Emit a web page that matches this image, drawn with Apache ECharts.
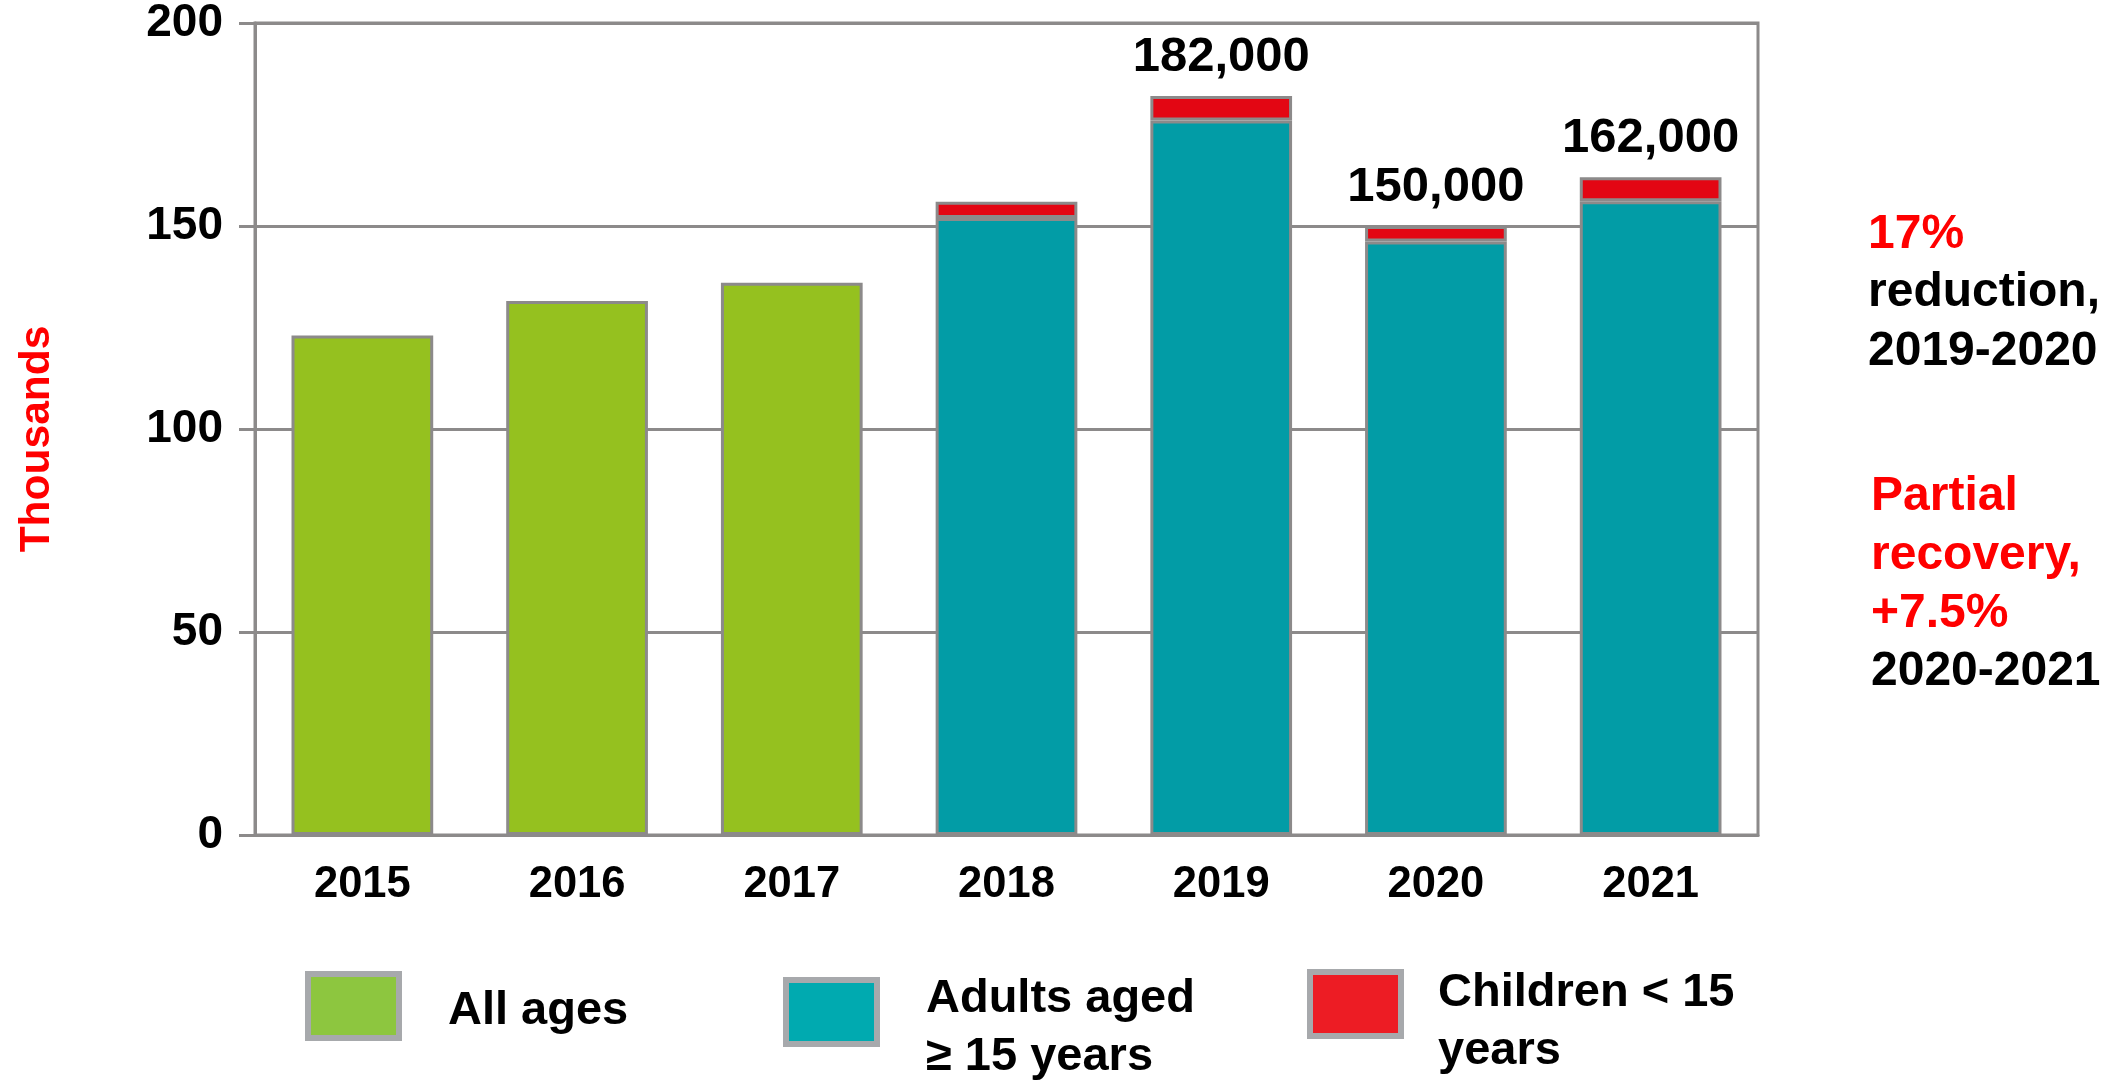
<!DOCTYPE html>
<html>
<head>
<meta charset="utf-8">
<script src="https://cdn.jsdelivr.net/npm/echarts@6/dist/echarts.min.js"></script>
<style>
  html, body { margin: 0; padding: 0; background: #ffffff; }
  #chart { width: 2118px; height: 1081px; }
</style>
</head>
<body>
<div id="chart"></div>
<script>
// Yearly totals, in thousands
const years = ['2015', '2016', '2017', '2018', '2019', '2020', '2021'];
const allAges  = [123, 131.5, 136, '-', '-', '-', '-'];
const adults   = ['-', '-', '-', 152, 176, 146.2, 156.1];
const children = ['-', '-', '-', 4, 6, 3.8, 5.9];
// Years whose stacked total is written above the bar
const labelledYears = ['2019', '2020', '2021'];
const yTicks = { min: 0, max: 200, interval: 50 };

const FONT = '"Liberation Sans", Arial, sans-serif';
const GRAY = '#8c8a8a';
const RED = '#ff0000';

function totalLabel(i) {
  const t = Math.round((adults[i] + children[i]) * 1000);
  return t.toLocaleString('en-US');
}

const chart = echarts.init(document.getElementById('chart'), null, { renderer: 'canvas' });

const barBorder = { borderColor: GRAY, borderWidth: 3 };

// Legend label: an invisible spacer line of height `gap` pushes the text
// block down relative to its swatch.
function legendLabel(lines, gap, left) {
  return {
    formatter: function () {
      return '{s| }\n' + lines.map(function (l) { return '{t|' + l + '}'; }).join('\n');
    },
    textStyle: {
      color: '#000', fontFamily: FONT, fontWeight: 'bold', fontSize: 47,
      rich: {
        s: { lineHeight: gap, fontSize: 10, padding: [0, 0, 0, left] },
        t: { lineHeight: 58, fontSize: 47, fontWeight: 'bold', fontFamily: FONT,
             color: '#000', padding: [0, 0, 0, left] }
      }
    }
  };
}

function note(x, y, text, color) {
  return { type: 'text', x: x, y: y,
    style: { text: text, fill: color, font: 'bold 48px ' + FONT, verticalAlign: 'middle' } };
}

const swatch = { itemWidth: 91, itemHeight: 64, selectedMode: false };

chart.setOption({
  animation: false,
  backgroundColor: '#ffffff',
  grid: {
    left: 255, right: 360, top: 16, bottom: 246,
    show: true, borderColor: GRAY, borderWidth: 3, backgroundColor: 'transparent'
  },
  xAxis: {
    type: 'category',
    data: years,
    axisLine: { lineStyle: { color: GRAY, width: 3 } },
    axisTick: { show: false },
    axisLabel: {
      margin: 28,
      color: '#000', fontFamily: FONT, fontWeight: 'bold', fontSize: 43.5
    }
  },
  yAxis: {
    type: 'value',
    min: yTicks.min, max: yTicks.max, interval: yTicks.interval,
    name: 'Thousands',
    nameLocation: 'middle',
    nameRotate: 90,
    nameGap: 196,
    nameTextStyle: { color: RED, fontFamily: FONT, fontWeight: 'bold', fontSize: 42.5,
      padding: [0, 20, 0, 0] },
    axisLine: { show: true, lineStyle: { color: GRAY, width: 3 } },
    axisTick: { show: true, length: 16, lineStyle: { color: GRAY, width: 3 } },
    splitLine: { lineStyle: { color: GRAY, width: 3 } },
    axisLabel: {
      margin: 32,
      color: '#000', fontFamily: FONT, fontWeight: 'bold', fontSize: 46
    }
  },
  legend: [
    Object.assign({
      left: 300, top: 966,
      data: [{ name: 'All ages', icon: 'rect',
        itemStyle: { color: '#8dc63f', borderColor: '#a7a9ac', borderWidth: 6 } }]
    }, swatch, legendLabel(['All ages'], 10, 44)),
    Object.assign({
      left: 778, top: 944,
      data: [{ name: 'Adults aged ≥ 15 years', icon: 'rect',
        itemStyle: { color: '#00aab0', borderColor: '#a7a9ac', borderWidth: 6 } }]
    }, swatch, legendLabel(['Adults aged', '≥ 15 years'], 32, 44)),
    Object.assign({
      left: 1302, top: 936,
      data: [{ name: 'Children < 15 years', icon: 'rect',
        itemStyle: { color: '#ed1c24', borderColor: '#a7a9ac', borderWidth: 6 } }]
    }, swatch, legendLabel(['Children < 15', 'years'], 37, 32))
  ],
  series: [
    {
      name: 'All ages',
      type: 'bar',
      stack: 'total',
      barCategoryGap: '34%',
      data: allAges,
      itemStyle: Object.assign({ color: '#95c11f' }, barBorder)
    },
    {
      name: 'Adults aged ≥ 15 years',
      type: 'bar',
      stack: 'total',
      data: adults,
      itemStyle: Object.assign({ color: '#029ca6' }, barBorder)
    },
    {
      name: 'Children < 15 years',
      type: 'bar',
      stack: 'total',
      data: children,
      itemStyle: Object.assign({ color: '#e30613' }, barBorder),
      label: {
        show: true,
        position: 'top',
        distance: 14,
        color: '#000', fontFamily: FONT, fontWeight: 'bold', fontSize: 49,
        formatter: function (p) {
          return labelledYears.indexOf(p.name) >= 0 ? totalLabel(p.dataIndex) : '';
        }
      }
    }
  ],
  graphic: [
    note(1868, 235, '17%', RED),
    note(1868, 293, 'reduction,', '#000'),
    note(1868, 352, '2019-2020', '#000'),
    note(1871, 497, 'Partial', RED),
    note(1871, 556, 'recovery,', RED),
    note(1871, 614, '+7.5%', RED),
    note(1871, 672, '2020-2021', '#000')
  ]
});
</script>
</body>
</html>
